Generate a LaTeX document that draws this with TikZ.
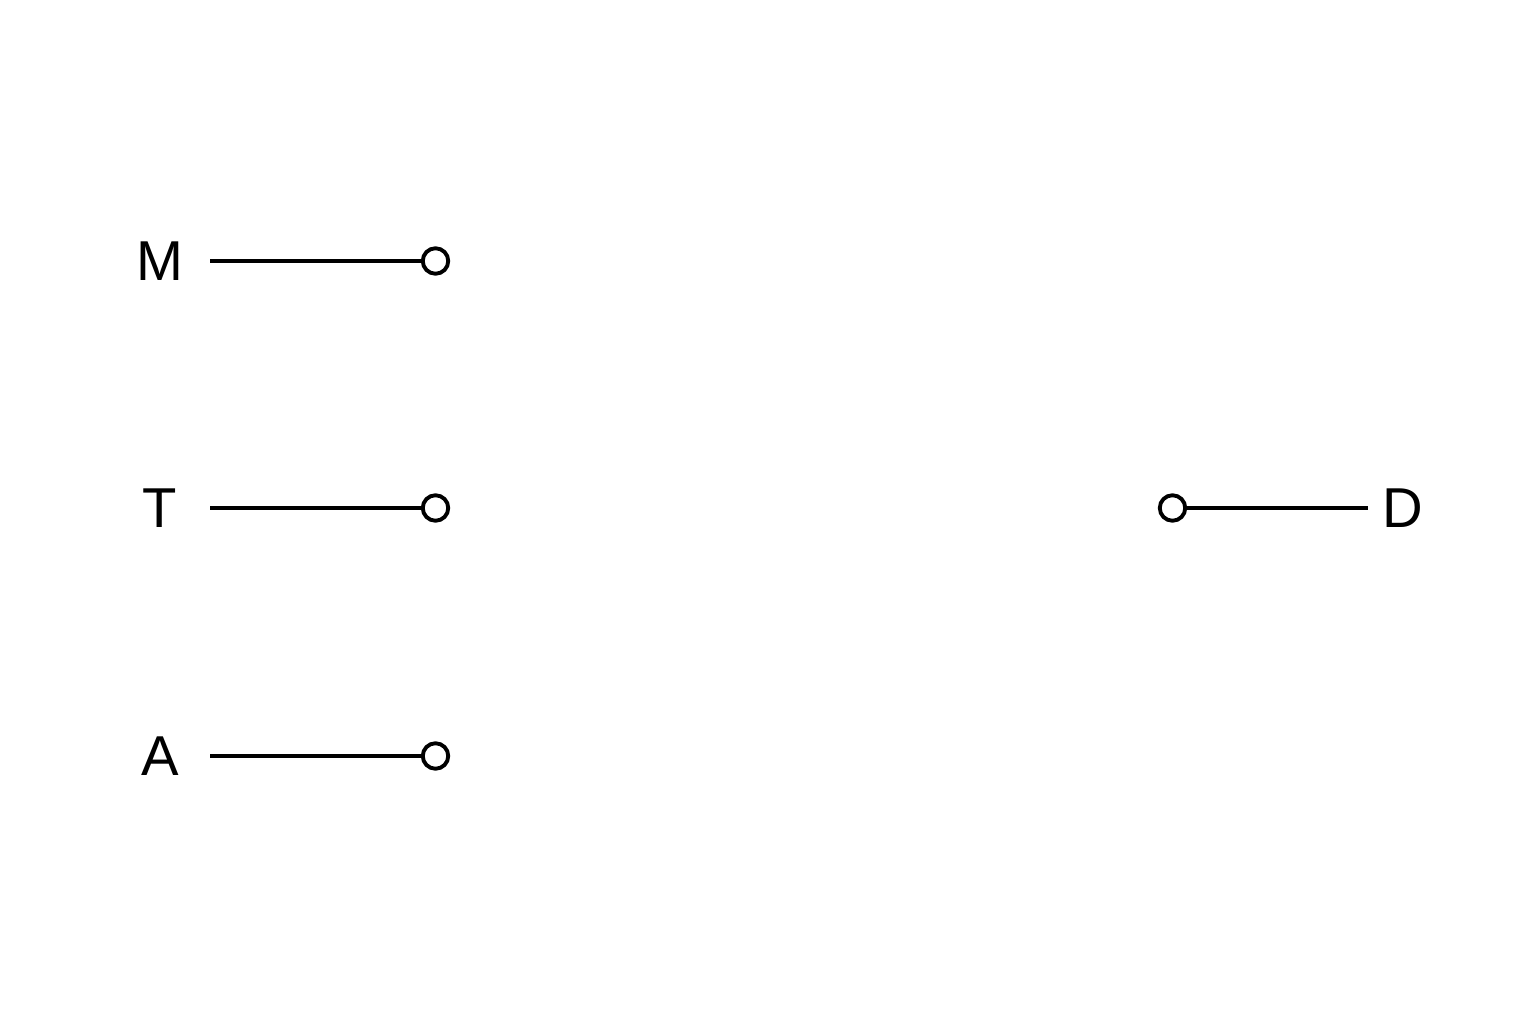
\documentclass[tikz,border=0pt]{standalone}
\usepackage{fontspec}
\setmainfont{Liberation Sans}
\usepackage{tikz}
\usetikzlibrary{positioning}

\begin{document}
\begin{tikzpicture}[
      port/.style={
            circle, draw, fill=white,
            minimum size=0.255cm, inner sep=0pt
        },
      tag/.style={
            inner sep=0pt, text=black,
            font=\fontsize{16}{19}\selectfont
        },
      wire/.style={line width=1.1pt},
      line width=1.1pt
      ]
    \useasboundingbox (0,0) rectangle (15.36,10.24);

    % left terminals
    \node[tag] (M) at (1.60,7.63) {M};
    \node[tag] (T) at (1.60,5.16) {T};
    \node[tag] (A) at (1.60,2.68) {A};
    \coordinate (M0) at (2.10,7.63);
    \coordinate (T0) at (2.10,5.16);
    \coordinate (A0) at (2.10,2.68);
    \node[port] (m) at (4.355,7.63) {};
    \node[port] (t) at (4.355,5.16) {};
    \node[port] (a) at (4.355,2.68) {};

    % right terminal
    \node[tag] (D) at (14.03,5.16) {D};
    \coordinate (D0) at (13.68,5.16);
    \node[port] (d) at (11.725,5.16) {};

    \draw[wire] (M0) -- (m);
    \draw[wire] (T0) -- (t);
    \draw[wire] (A0) -- (a);
    \draw[wire] (d) -- (D0);
  \end{tikzpicture}
\end{document}
